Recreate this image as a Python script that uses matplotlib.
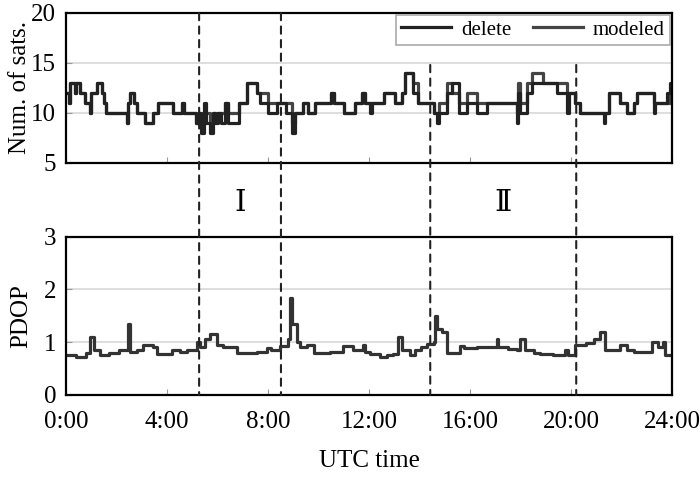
import matplotlib
matplotlib.use('Agg')
import matplotlib.pyplot as plt
from matplotlib.patches import ConnectionPatch

plt.rcParams['font.family'] = ['Liberation Serif', 'DejaVu Serif']
plt.rcParams['font.size'] = 18

# number of satellites (step starts, hours)
sat_t = [0, 0.1, 0.16, 0.35, 0.4, 0.55, 0.75, 0.95, 1.0, 1.21,
         1.41, 1.5, 1.6, 2.4, 2.46, 2.55, 2.7, 2.8, 3.13, 3.45,
         3.65, 4.25, 4.6, 4.66, 5.15, 5.25, 5.35, 5.45, 5.55, 5.7,
         5.8, 5.9, 6.0, 6.15, 6.3, 6.43, 6.83, 7.15, 7.55, 7.68,
         8.0, 8.34, 8.7, 8.94, 9.07, 9.4, 9.6, 9.86, 10.5, 10.6,
         11.0, 11.45, 11.71, 11.84, 12.04, 12.1, 12.57, 13.03, 13.29, 13.42,
         13.75, 13.95, 14.55, 14.68, 14.75, 15.08, 15.3, 15.54, 15.87, 16.26,
         16.66, 17.85, 17.9, 17.98, 18.24, 18.44, 18.9, 19.43, 19.83, 19.9,
         20.16, 20.36, 21.28, 21.35, 21.48, 21.94, 22.2, 22.47, 22.6, 23.26,
         23.3, 23.79, 23.92, 24]
sats_delete = [12, 11, 13, 12, 13, 12, 11, 10, 12, 13,
               12, 11, 10, 9, 11, 12, 11, 10, 9, 10,
               11, 10, 11, 10, 9, 10, 8, 11, 9, 8,
               10, 9, 10, 9, 11, 9, 11, 13, 12, 11,
               10, 11, 10, 8, 10, 11, 10, 11, 12, 11,
               10, 11, 12, 11, 10, 11, 12, 11, 12, 14,
               12, 11, 10, 9, 10, 12, 13, 10, 11, 10,
               11, 9, 12, 10, 12, 13, 13, 12, 10, 12,
               11, 10, 9, 10, 12, 11, 10, 11, 12, 10,
               11, 12, 13, 13]
sats_modeled = [12, 11, 13, 12, 13, 12, 11, 10, 12, 13,
                12, 11, 10, 9, 11, 12, 11, 10, 9, 10,
                11, 10, 11, 10, 9, 10, 9, 10, 10, 9,
                10, 10, 10, 10, 11, 10, 11, 13, 12, 12,
                11, 11, 11, 9, 10, 11, 10, 11, 12, 11,
                10, 11, 12, 11, 11, 11, 12, 11, 12, 14,
                13, 11, 10, 10, 11, 13, 12, 11, 12, 11,
                11, 10, 13, 11, 13, 14, 13, 13, 12, 12,
                11, 10, 10, 10, 12, 11, 10, 11, 12, 11,
                11, 11, 12, 13]

# PDOP
pdop_t = [0, 0.4, 0.8, 0.95, 1.1, 1.35, 1.7, 2.1, 2.47, 2.52,
          2.8, 3.06, 3.46, 3.59, 4.18, 4.51, 4.78, 5.17, 5.3, 5.5,
          5.7, 5.97, 6.23, 6.76, 7.55, 7.95, 8.1, 8.47, 8.8, 8.87,
          8.95, 9.13, 9.27, 9.53, 9.8, 10.45, 10.98, 11.38, 11.77, 11.85,
          12.04, 12.43, 12.7, 12.96, 13.16, 13.29, 13.62, 13.82, 14.05, 14.28,
          14.55, 14.61, 14.68, 14.88, 15.08, 15.6, 15.74, 16.26, 17.06, 17.12,
          17.5, 17.85, 17.98, 18.18, 18.51, 18.77, 19.3, 19.76, 19.89, 20.16,
          20.6, 20.89, 21.15, 21.35, 21.94, 22.2, 22.47, 23.19, 23.45, 23.63,
          23.72, 24]
pdop = [0.75, 0.72, 0.8, 1.1, 0.85, 0.75, 0.8, 0.85, 1.35, 0.82,
        0.85, 0.95, 0.9, 0.78, 0.85, 0.82, 0.85, 1.0, 0.9, 1.05,
        1.15, 0.95, 0.9, 0.8, 0.82, 0.88, 0.85, 0.92, 1.05, 1.83,
        1.35, 1.0, 0.9, 0.95, 0.8, 0.82, 0.92, 0.85, 0.95, 0.82,
        0.78, 0.72, 0.75, 0.78, 1.1, 0.85, 0.75, 0.85, 0.9, 0.97,
        1.0, 1.5, 1.25, 1.2, 0.8, 0.92, 0.88, 0.9, 1.05, 0.9,
        0.87, 0.85, 1.05, 0.85, 0.8, 0.77, 0.75, 0.85, 0.75, 0.95,
        0.98, 1.05, 1.2, 0.85, 0.95, 0.85, 0.82, 1.0, 0.9, 1.0,
        0.75, 0.75]

# period boundaries (hours) and labels
bounds = [5.27, 8.51, 14.42, 20.2]
bound_tops = [20, 20, 14.8, 14.8]
periods = [(6.9, 'Ⅰ'), (17.3, 'Ⅱ')]

xticks = [0, 4, 8, 12, 16, 20, 24]
xlabels = ['0:00', '4:00', '8:00', '12:00', '16:00', '20:00', '24:00']

fig = plt.figure(figsize=(7, 4.78), dpi=100)
ax1 = fig.add_axes([0.0943, 0.659, 0.866, 0.314])
ax2 = fig.add_axes([0.0943, 0.174, 0.866, 0.331])

ax1.plot(sat_t, sats_modeled, drawstyle='steps-post', color='#444444', lw=2.3, label='modeled')
ax1.plot(sat_t, sats_delete, drawstyle='steps-post', color='#222222', lw=2.3, label='delete')
ax2.plot(pdop_t, pdop, drawstyle='steps-post', color='#333333', lw=2.3)

ax1.set_xlim(0, 24)
ax1.set_ylim(5, 20)
ax1.set_yticks([5, 10, 15, 20])
ax1.set_ylabel('Num. of sats.', labelpad=0)
ax2.set_xlim(0, 24)
ax2.set_ylim(0, 3)
ax2.set_yticks([0, 1, 2, 3])
ax2.set_ylabel('PDOP', labelpad=8)
ax2.set_xlabel('UTC time', labelpad=12)

for ax in (ax1, ax2):
    ax.set_xticks(xticks)
    ax.yaxis.grid(True, color='#d8d8d8', lw=1.2)
    ax.set_axisbelow(True)
    ax.tick_params(direction='in', length=4, width=0.8, color='#999999')
    ax.tick_params(axis='y', pad=7)
    ax.tick_params(axis='x', pad=12)
    for s in ax.spines.values():
        s.set_linewidth(1.6)
ax1.set_xticklabels([])
ax2.set_xticklabels(xlabels)

for x, top in zip(bounds, bound_tops):
    con = ConnectionPatch(xyA=(x, top), coordsA=ax1.transData,
                          xyB=(x, 0), coordsB=ax2.transData,
                          linestyle=(0, (3.5, 3)), color='#222222', lw=1.5)
    fig.add_artist(con)

for x, s in periods:
    fig.text(ax1.transData.transform((x, 0))[0] / fig.dpi / 7, 0.573, s,
             ha='center', va='center', fontsize=21,
             family=['Liberation Serif', 'DejaVu Serif', 'Noto Sans CJK SC'])

h, l = ax1.get_legend_handles_labels()
leg = ax1.legend(h[::-1], l[::-1], ncol=2, loc='upper right', fontsize=15,
                 handlelength=2.4, columnspacing=1.0, borderaxespad=0.1,
                 fancybox=False, edgecolor='#aaaaaa', framealpha=1,
                 borderpad=0.25, handletextpad=0.5)
leg.get_frame().set_linewidth(1.2)
leg.set_zorder(10)

fig.savefig('out.png', dpi=100)
